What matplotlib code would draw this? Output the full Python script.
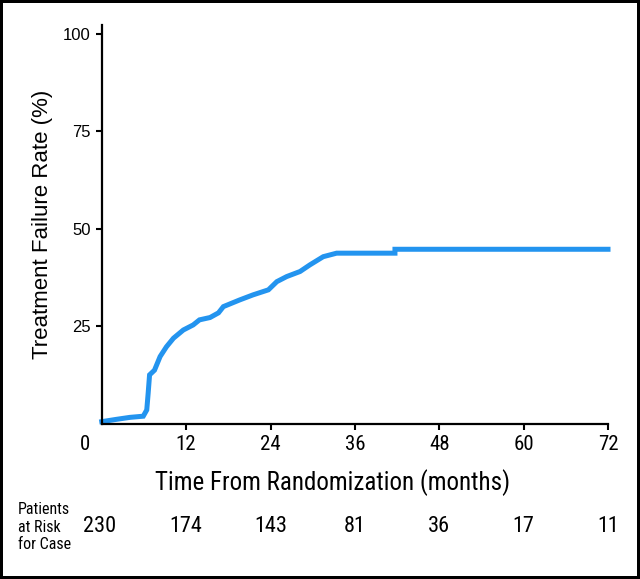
import os
import matplotlib
matplotlib.use("Agg")
import matplotlib.pyplot as plt
from matplotlib import font_manager
from matplotlib.font_manager import FontProperties

# treatment failure curve
times = [0, 2.1, 4.0, 5.9, 6.4, 6.6, 6.8, 7.5, 8.3, 9.2, 10.2, 11.6, 13.0, 13.9,
         15.4, 16.6, 17.3, 19.6, 21.5, 23.7, 24.9, 26.3, 28.2, 29.6, 31.5, 33.4,
         41.7, 41.7, 72]
rates = [0.6, 1.2, 1.7, 2.0, 3.6, 7.9, 12.6, 13.8, 17.3, 19.8, 22.0, 24.1, 25.4, 26.7,
         27.3, 28.5, 30.1, 31.8, 33.1, 34.4, 36.5, 37.8, 39.1, 40.8, 42.9, 43.8,
         43.8, 44.8, 44.8]

x_ticks = [12, 24, 36, 48, 60, 72]
y_ticks = [25, 50, 75, 100]
risk_times = [0, 12, 24, 36, 48, 60, 72]
at_risk = [230, 174, 143, 81, 36, 17, 11]


def find_narrow():
    prefer = ["Liberation Sans Narrow", "Roboto Condensed", "Open Sans Condensed",
              "Noto Sans Condensed", "DejaVu Sans Condensed"]
    fonts = font_manager.fontManager.ttflist
    for p in prefer:
        for f in fonts:
            if f.name == p and f.weight in (400, "normal", "regular") and f.style == "normal":
                return f.fname
    bad = ("bold", "italic", "oblique", "light", "thin", "black", "medium", "semi", "extra")
    for f in fonts:
        base = os.path.basename(f.fname).lower()
        if ("condensed" in base or "narrow" in base) and not any(b in base for b in bad):
            return f.fname
    return None


narrow_file = find_narrow()


def nfont(size):
    if narrow_file:
        return FontProperties(fname=narrow_file, size=size)
    return FontProperties(family="DejaVu Sans", size=size * 0.85)


plain = "Liberation Sans"
blue = "#2394ef"

fig = plt.figure(figsize=(6.4, 5.79), dpi=100, edgecolor="black", linewidth=3)
ax = fig.add_axes([0.159, 0.2677, 0.791, 0.6891])

ax.plot(times, rates, color=blue, lw=3.6, solid_joinstyle="miter", clip_on=False)

ax.set_xlim(0, 72)
ax.set_ylim(0, 102.3)
ax.spines["top"].set_visible(False)
ax.spines["right"].set_visible(False)
for s in ("left", "bottom"):
    ax.spines[s].set_linewidth(1.6)

ax.set_xticks(x_ticks)
ax.set_xticklabels([str(t) for t in x_ticks])
for lab in ax.get_xticklabels():
    lab.set_fontproperties(nfont(15))
ax.set_yticks(y_ticks)
ax.set_yticklabels([str(t) for t in y_ticks], family=plain, fontsize=12)
ax.tick_params(direction="out", length=4, width=1.5, pad=4)

ax.annotate("0", xy=(0, 0), xytext=(-12, -8), textcoords="offset points",
            ha="center", va="top", fontproperties=nfont(15))

ax.set_ylabel("Treatment Failure Rate (%)", family=plain, fontsize=16, labelpad=7)
fig.text(333 / 640, 1 - 483 / 579, "Time From Randomization (months)",
         ha="center", va="center", fontproperties=nfont(18))

# patients at risk row
for t, n in zip(risk_times, at_risk):
    xt = t - 0.3 if t == 0 else t
    ax.annotate(str(n), xy=(xt, 0), xycoords=("data", "axes fraction"),
                xytext=(0, -74), textcoords="offset points",
                ha="center", va="center", fontproperties=nfont(16))
fig.text(18 / 640, 1 - 527 / 579, "Patients\nat Risk\nfor Case", ha="left", va="center",
         fontproperties=nfont(11.5), linespacing=1.2)

fig.savefig("out.png", dpi=100)
